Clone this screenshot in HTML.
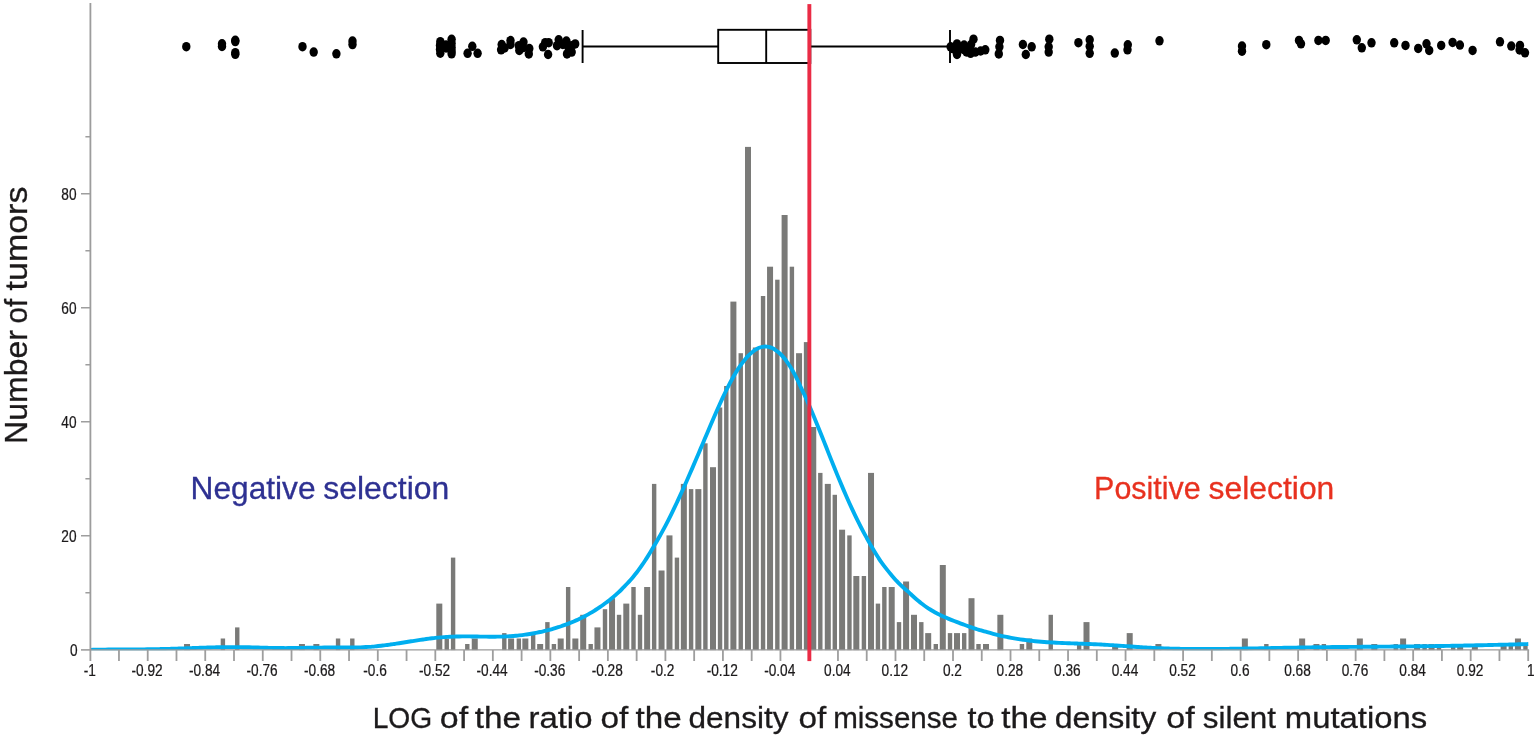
<!DOCTYPE html>
<html lang="en"><head><meta charset="utf-8"><title>Distribution of missense to silent mutation density ratio</title>
<style>html,body{margin:0;padding:0;background:#fff;overflow:hidden}svg{display:block}text{font-family:"Liberation Sans",sans-serif}</style></head><body>
<svg width="1534" height="740" viewBox="0 0 1534 740">
<rect width="1534" height="740" fill="#fff"/>
<g fill="#7a7a78" shape-rendering="auto">
<rect x="184.03" y="644.0" width="6.00" height="6.1"/>
<rect x="220.70" y="638.5" width="4.40" height="11.6"/>
<rect x="235.05" y="627.4" width="4.40" height="22.7"/>
<rect x="298.95" y="644.0" width="6.00" height="6.1"/>
<rect x="313.35" y="644.0" width="6.00" height="6.1"/>
<rect x="335.85" y="638.5" width="4.40" height="11.6"/>
<rect x="350.10" y="638.5" width="4.40" height="11.6"/>
<rect x="436.30" y="603.6" width="6.00" height="46.5"/>
<rect x="444.55" y="638.5" width="4.40" height="11.6"/>
<rect x="450.90" y="557.6" width="4.40" height="92.5"/>
<rect x="465.10" y="644.0" width="4.40" height="6.1"/>
<rect x="471.75" y="638.5" width="6.00" height="11.6"/>
<rect x="502.10" y="633.1" width="4.40" height="17.0"/>
<rect x="508.10" y="638.5" width="6.00" height="11.6"/>
<rect x="516.65" y="638.5" width="4.40" height="11.6"/>
<rect x="522.35" y="638.5" width="6.00" height="11.6"/>
<rect x="530.95" y="633.1" width="4.40" height="17.0"/>
<rect x="537.15" y="644.0" width="6.00" height="6.1"/>
<rect x="545.20" y="622.1" width="4.40" height="28.0"/>
<rect x="551.70" y="644.0" width="4.40" height="6.1"/>
<rect x="557.70" y="638.5" width="6.00" height="11.6"/>
<rect x="565.95" y="587.0" width="4.40" height="63.1"/>
<rect x="572.35" y="638.5" width="6.00" height="11.6"/>
<rect x="580.20" y="614.8" width="6.00" height="35.3"/>
<rect x="588.50" y="644.0" width="4.40" height="6.1"/>
<rect x="594.45" y="627.4" width="6.00" height="22.7"/>
<rect x="602.80" y="609.2" width="4.40" height="40.9"/>
<rect x="609.05" y="598.2" width="6.00" height="51.9"/>
<rect x="616.85" y="614.8" width="4.40" height="35.3"/>
<rect x="623.30" y="603.6" width="6.00" height="46.5"/>
<rect x="631.30" y="587.0" width="4.40" height="63.1"/>
<rect x="637.80" y="614.8" width="4.40" height="35.3"/>
<rect x="644.15" y="587.0" width="6.00" height="63.1"/>
<rect x="651.95" y="483.9" width="4.40" height="166.2"/>
<rect x="658.55" y="570.5" width="6.00" height="79.6"/>
<rect x="666.47" y="535.4" width="6.00" height="114.7"/>
<rect x="674.75" y="557.6" width="4.40" height="92.5"/>
<rect x="680.85" y="483.9" width="6.00" height="166.2"/>
<rect x="688.90" y="489.1" width="4.40" height="161.0"/>
<rect x="695.35" y="489.1" width="6.00" height="161.0"/>
<rect x="703.20" y="443.3" width="4.40" height="206.8"/>
<rect x="710.00" y="467.2" width="6.00" height="182.9"/>
<rect x="717.85" y="407.5" width="4.40" height="242.6"/>
<rect x="724.10" y="386.0" width="4.40" height="264.1"/>
<rect x="730.40" y="301.6" width="6.00" height="348.5"/>
<rect x="738.55" y="353.2" width="4.40" height="296.9"/>
<rect x="745.00" y="146.9" width="6.00" height="503.2"/>
<rect x="752.80" y="347.5" width="6.00" height="302.6"/>
<rect x="760.85" y="296.0" width="4.40" height="354.1"/>
<rect x="767.05" y="266.7" width="6.00" height="383.4"/>
<rect x="775.15" y="279.7" width="4.40" height="370.4"/>
<rect x="781.60" y="215.0" width="6.00" height="435.1"/>
<rect x="789.70" y="266.7" width="4.40" height="383.4"/>
<rect x="796.05" y="353.2" width="6.00" height="296.9"/>
<rect x="803.85" y="342.1" width="4.40" height="308.0"/>
<rect x="810.25" y="427.0" width="6.00" height="223.1"/>
<rect x="818.10" y="472.9" width="4.40" height="177.2"/>
<rect x="824.80" y="483.9" width="6.00" height="166.2"/>
<rect x="832.60" y="494.8" width="4.40" height="155.3"/>
<rect x="839.10" y="529.7" width="6.00" height="120.4"/>
<rect x="847.25" y="535.4" width="4.40" height="114.7"/>
<rect x="853.33" y="576.0" width="6.00" height="74.1"/>
<rect x="861.70" y="576.0" width="4.40" height="74.1"/>
<rect x="868.02" y="472.9" width="6.00" height="177.2"/>
<rect x="875.75" y="603.6" width="4.40" height="46.5"/>
<rect x="882.15" y="587.0" width="4.40" height="63.1"/>
<rect x="888.70" y="587.0" width="6.00" height="63.1"/>
<rect x="896.80" y="622.1" width="4.40" height="28.0"/>
<rect x="903.08" y="581.5" width="6.00" height="68.6"/>
<rect x="911.00" y="614.8" width="6.00" height="35.3"/>
<rect x="919.10" y="622.1" width="4.40" height="28.0"/>
<rect x="925.20" y="633.1" width="6.00" height="17.0"/>
<rect x="933.60" y="644.0" width="4.40" height="6.1"/>
<rect x="939.80" y="565.0" width="6.00" height="85.1"/>
<rect x="947.80" y="633.1" width="4.40" height="17.0"/>
<rect x="954.00" y="633.1" width="6.00" height="17.0"/>
<rect x="962.00" y="633.1" width="4.40" height="17.0"/>
<rect x="968.50" y="598.2" width="6.00" height="51.9"/>
<rect x="976.30" y="644.0" width="4.40" height="6.1"/>
<rect x="983.00" y="644.0" width="6.00" height="6.1"/>
<rect x="997.35" y="614.8" width="6.00" height="35.3"/>
<rect x="1019.75" y="644.0" width="4.40" height="6.1"/>
<rect x="1026.30" y="638.5" width="6.00" height="11.6"/>
<rect x="1048.55" y="614.8" width="4.40" height="35.3"/>
<rect x="1076.95" y="644.0" width="4.40" height="6.1"/>
<rect x="1083.50" y="622.1" width="6.00" height="28.0"/>
<rect x="1112.15" y="644.0" width="6.00" height="6.1"/>
<rect x="1126.70" y="633.1" width="6.00" height="17.0"/>
<rect x="1155.40" y="644.0" width="6.00" height="6.1"/>
<rect x="1241.85" y="638.5" width="6.00" height="11.6"/>
<rect x="1264.15" y="644.0" width="4.40" height="6.1"/>
<rect x="1299.15" y="638.5" width="6.00" height="11.6"/>
<rect x="1313.45" y="644.0" width="6.00" height="6.1"/>
<rect x="1321.65" y="644.0" width="4.40" height="6.1"/>
<rect x="1356.85" y="638.5" width="6.00" height="11.6"/>
<rect x="1371.30" y="644.0" width="6.00" height="6.1"/>
<rect x="1393.55" y="644.0" width="4.40" height="6.1"/>
<rect x="1400.10" y="638.5" width="6.00" height="11.6"/>
<rect x="1414.08" y="644.0" width="6.00" height="6.1"/>
<rect x="1422.40" y="644.0" width="4.40" height="6.1"/>
<rect x="1428.55" y="644.0" width="6.00" height="6.1"/>
<rect x="1436.80" y="644.0" width="4.40" height="6.1"/>
<rect x="1450.97" y="644.0" width="4.40" height="6.1"/>
<rect x="1457.15" y="644.0" width="6.00" height="6.1"/>
<rect x="1471.85" y="644.0" width="6.00" height="6.1"/>
<rect x="1500.62" y="644.0" width="6.00" height="6.1"/>
<rect x="1508.60" y="644.0" width="4.40" height="6.1"/>
<rect x="1514.95" y="638.5" width="6.00" height="11.6"/>
<rect x="1523.25" y="644.0" width="4.40" height="6.1"/>
</g>
<clipPath id="pc"><rect x="89.7" y="0" width="1439.5" height="650.3"/></clipPath>
<path d="M90.20 649.90C91.20 649.87 92.20 649.84 93.20 649.82C94.20 649.79 95.20 649.77 96.20 649.74C97.20 649.72 98.20 649.70 99.20 649.69C100.20 649.67 101.20 649.65 102.20 649.64C103.20 649.62 104.20 649.61 105.20 649.60C106.20 649.59 107.20 649.58 108.20 649.57C109.20 649.56 110.20 649.55 111.20 649.55C112.20 649.54 113.20 649.53 114.20 649.53C115.20 649.52 116.20 649.52 117.20 649.51C118.20 649.51 119.20 649.50 120.20 649.50C121.20 649.49 122.20 649.49 123.20 649.48C124.20 649.48 125.20 649.47 126.20 649.47C127.20 649.47 128.20 649.46 129.20 649.46C130.20 649.45 131.20 649.44 132.20 649.44C133.20 649.43 134.20 649.43 135.20 649.42C136.20 649.41 137.20 649.40 138.20 649.40C139.20 649.39 140.20 649.38 141.20 649.37C142.20 649.36 143.20 649.35 144.20 649.34C145.20 649.32 146.20 649.31 147.20 649.30C148.20 649.28 149.20 649.27 150.20 649.25C151.20 649.24 152.20 649.22 153.20 649.20C154.20 649.19 155.20 649.17 156.20 649.15C157.20 649.13 158.20 649.11 159.20 649.09C160.20 649.07 161.20 649.04 162.20 649.02C163.20 649.00 164.20 648.97 165.20 648.95C166.20 648.92 167.20 648.89 168.20 648.87C169.20 648.84 170.20 648.81 171.20 648.78C172.20 648.75 173.20 648.72 174.20 648.69C175.20 648.66 176.20 648.63 177.20 648.60C178.20 648.57 179.20 648.53 180.20 648.50C181.20 648.46 182.20 648.43 183.20 648.40C184.20 648.36 185.20 648.33 186.20 648.29C187.20 648.26 188.20 648.22 189.20 648.18C190.20 648.15 191.20 648.11 192.20 648.07C193.20 648.04 194.20 648.00 195.20 647.97C196.20 647.93 197.20 647.89 198.20 647.86C199.20 647.82 200.20 647.79 201.20 647.75C202.20 647.72 203.20 647.69 204.20 647.65C205.20 647.62 206.20 647.59 207.20 647.56C208.20 647.53 209.20 647.50 210.20 647.47C211.20 647.44 212.20 647.41 213.20 647.39C214.20 647.36 215.20 647.34 216.20 647.31C217.20 647.29 218.20 647.27 219.20 647.25C220.20 647.23 221.20 647.22 222.20 647.20C223.20 647.19 224.20 647.18 225.20 647.17C226.20 647.15 227.20 647.15 228.20 647.14C229.20 647.13 230.20 647.13 231.20 647.13C232.20 647.13 233.20 647.13 234.20 647.13C235.20 647.13 236.20 647.14 237.20 647.15C238.20 647.15 239.20 647.16 240.20 647.17C241.20 647.19 242.20 647.20 243.20 647.21C244.20 647.23 245.20 647.25 246.20 647.26C247.20 647.28 248.20 647.30 249.20 647.32C250.20 647.35 251.20 647.37 252.20 647.39C253.20 647.42 254.20 647.44 255.20 647.47C256.20 647.49 257.20 647.52 258.20 647.55C259.20 647.57 260.20 647.60 261.20 647.63C262.20 647.66 263.20 647.69 264.20 647.71C265.20 647.74 266.20 647.77 267.20 647.79C268.20 647.82 269.20 647.84 270.20 647.87C271.20 647.89 272.20 647.91 273.20 647.93C274.20 647.95 275.20 647.97 276.20 647.99C277.20 648.01 278.20 648.02 279.20 648.03C280.20 648.05 281.20 648.05 282.20 648.06C283.20 648.07 284.20 648.07 285.20 648.08C286.20 648.08 287.20 648.08 288.20 648.07C289.20 648.07 290.20 648.07 291.20 648.06C292.20 648.05 293.20 648.04 294.20 648.03C295.20 648.02 296.20 648.00 297.20 647.99C298.20 647.97 299.20 647.95 300.20 647.93C301.20 647.92 302.20 647.90 303.20 647.88C304.20 647.86 305.20 647.84 306.20 647.82C307.20 647.80 308.20 647.78 309.20 647.76C310.20 647.74 311.20 647.72 312.20 647.70C313.20 647.68 314.20 647.67 315.20 647.65C316.20 647.64 317.20 647.62 318.20 647.61C319.20 647.60 320.20 647.59 321.20 647.58C322.20 647.57 323.20 647.56 324.20 647.56C325.20 647.55 326.20 647.55 327.20 647.54C328.20 647.54 329.20 647.54 330.20 647.54C331.20 647.54 332.20 647.54 333.20 647.54C334.20 647.54 335.20 647.55 336.20 647.55C337.20 647.55 338.20 647.56 339.20 647.56C340.20 647.56 341.20 647.57 342.20 647.57C343.20 647.57 344.20 647.57 345.20 647.57C346.20 647.57 347.20 647.57 348.20 647.57C349.20 647.57 350.20 647.56 351.20 647.55C352.20 647.54 353.20 647.53 354.20 647.51C355.20 647.49 356.20 647.47 357.20 647.45C358.20 647.42 359.20 647.39 360.20 647.35C361.20 647.31 362.20 647.27 363.20 647.22C364.20 647.17 365.20 647.11 366.20 647.05C367.20 646.99 368.20 646.92 369.20 646.85C370.20 646.78 371.20 646.70 372.20 646.61C373.20 646.53 374.20 646.44 375.20 646.34C376.20 646.25 377.20 646.15 378.20 646.04C379.20 645.93 380.20 645.82 381.20 645.71C382.20 645.59 383.20 645.47 384.20 645.35C385.20 645.22 386.20 645.09 387.20 644.96C388.20 644.83 389.20 644.69 390.20 644.55C391.20 644.41 392.20 644.27 393.20 644.12C394.20 643.97 395.20 643.83 396.20 643.67C397.20 643.52 398.20 643.37 399.20 643.21C400.20 643.06 401.20 642.90 402.20 642.74C403.20 642.58 404.20 642.42 405.20 642.26C406.20 642.10 407.20 641.94 408.20 641.78C409.20 641.62 410.20 641.46 411.20 641.30C412.20 641.14 413.20 640.98 414.20 640.82C415.20 640.66 416.20 640.50 417.20 640.35C418.20 640.19 419.20 640.04 420.20 639.89C421.20 639.74 422.20 639.59 423.20 639.45C424.20 639.31 425.20 639.16 426.20 639.03C427.20 638.89 428.20 638.76 429.20 638.63C430.20 638.51 431.20 638.38 432.20 638.27C433.20 638.15 434.20 638.03 435.20 637.93C436.20 637.82 437.20 637.72 438.20 637.62C439.20 637.53 440.20 637.44 441.20 637.35C442.20 637.27 443.20 637.19 444.20 637.12C445.20 637.04 446.20 636.98 447.20 636.91C448.20 636.85 449.20 636.80 450.20 636.75C451.20 636.70 452.20 636.65 453.20 636.62C454.20 636.58 455.20 636.55 456.20 636.52C457.20 636.49 458.20 636.47 459.20 636.45C460.20 636.43 461.20 636.42 462.20 636.41C463.20 636.40 464.20 636.40 465.20 636.40C466.20 636.40 467.20 636.40 468.20 636.41C469.20 636.41 470.20 636.42 471.20 636.43C472.20 636.44 473.20 636.46 474.20 636.47C475.20 636.49 476.20 636.51 477.20 636.52C478.20 636.54 479.20 636.56 480.20 636.58C481.20 636.59 482.20 636.61 483.20 636.63C484.20 636.64 485.20 636.65 486.20 636.67C487.20 636.68 488.20 636.69 489.20 636.69C490.20 636.70 491.20 636.71 492.20 636.71C493.20 636.71 494.20 636.70 495.20 636.69C496.20 636.69 497.20 636.67 498.20 636.66C499.20 636.64 500.20 636.62 501.20 636.59C502.20 636.56 503.20 636.53 504.20 636.49C505.20 636.45 506.20 636.41 507.20 636.35C508.20 636.30 509.20 636.25 510.20 636.18C511.20 636.12 512.20 636.05 513.20 635.97C514.20 635.89 515.20 635.80 516.20 635.71C517.20 635.62 518.20 635.52 519.20 635.41C520.20 635.30 521.20 635.19 522.20 635.07C523.20 634.94 524.20 634.81 525.20 634.67C526.20 634.54 527.20 634.39 528.20 634.24C529.20 634.08 530.20 633.92 531.20 633.75C532.20 633.59 533.20 633.41 534.20 633.22C535.20 633.04 536.20 632.85 537.20 632.65C538.20 632.45 539.20 632.24 540.20 632.02C541.20 631.81 542.20 631.58 543.20 631.35C544.20 631.12 545.20 630.88 546.20 630.63C547.20 630.38 548.20 630.13 549.20 629.86C550.20 629.60 551.20 629.32 552.20 629.04C553.20 628.76 554.20 628.46 555.20 628.16C556.20 627.86 557.20 627.55 558.20 627.23C559.20 626.91 560.20 626.58 561.20 626.24C562.20 625.91 563.20 625.56 564.20 625.20C565.20 624.84 566.20 624.47 567.20 624.09C568.20 623.71 569.20 623.32 570.20 622.92C571.20 622.51 572.20 622.10 573.20 621.68C574.20 621.25 575.20 620.81 576.20 620.37C577.20 619.92 578.20 619.46 579.20 618.98C580.20 618.51 581.20 618.02 582.20 617.52C583.20 617.02 584.20 616.51 585.20 615.98C586.20 615.45 587.20 614.91 588.20 614.35C589.20 613.79 590.20 613.22 591.20 612.63C592.20 612.05 593.20 611.44 594.20 610.82C595.20 610.20 596.20 609.57 597.20 608.91C598.20 608.26 599.20 607.59 600.20 606.90C601.22 606.21 602.24 605.51 603.25 604.78C604.27 604.06 605.29 603.32 606.30 602.55C607.32 601.79 608.34 601.01 609.35 600.20C610.37 599.40 611.39 598.57 612.40 597.73C613.42 596.88 614.44 596.01 615.45 595.12C616.47 594.23 617.48 593.33 618.50 592.38C619.50 591.45 620.50 590.49 621.50 589.50C622.50 588.52 623.50 587.51 624.50 586.48C625.50 585.44 626.50 584.38 627.50 583.30C628.50 582.21 629.50 581.10 630.50 579.96C631.50 578.82 632.50 577.66 633.50 576.46C634.50 575.27 635.50 574.08 636.50 572.80C637.45 571.57 638.41 570.28 639.36 568.96C640.30 567.66 641.24 566.31 642.18 564.94C643.12 563.57 644.06 562.17 644.99 560.74C645.93 559.31 646.87 557.84 647.81 556.35C648.75 554.85 649.68 553.32 650.62 551.76C651.56 550.20 652.51 548.56 653.45 546.98C654.44 545.31 655.44 543.69 656.43 542.00C657.43 540.30 658.42 538.57 659.41 536.81C660.41 535.05 661.40 533.25 662.40 531.42C663.39 529.59 664.39 527.73 665.38 525.84C666.37 523.94 667.37 522.01 668.36 520.05C669.36 518.09 670.35 516.10 671.35 514.08C672.34 512.06 673.33 510.01 674.33 507.93C675.32 505.85 676.32 503.73 677.31 501.61C678.31 499.47 679.31 497.30 680.31 495.12C681.32 492.92 682.33 490.72 683.34 488.49C684.36 486.25 685.37 483.99 686.38 481.72C687.39 479.44 688.40 477.14 689.41 474.83C690.42 472.52 691.43 470.19 692.44 467.85C693.45 465.50 694.46 463.14 695.47 460.78C696.48 458.41 697.49 456.03 698.50 453.65C699.51 451.27 700.53 448.88 701.54 446.49C702.55 444.10 703.56 441.71 704.57 439.32C705.58 436.93 706.59 434.54 707.60 432.16C708.61 429.78 709.62 427.41 710.63 425.05C711.64 422.69 712.65 420.34 713.66 418.01C714.67 415.68 715.69 413.36 716.70 411.07C717.71 408.79 718.72 406.52 719.73 404.28C720.74 402.05 721.75 399.83 722.76 397.66C723.77 395.49 724.78 393.33 725.79 391.26C726.82 389.14 727.86 387.10 728.89 385.11C729.93 383.10 730.97 381.14 732.01 379.25C733.05 377.35 734.09 375.48 735.13 373.72C736.19 371.92 737.25 370.20 738.31 368.58C739.40 366.91 740.50 365.36 741.59 363.87C742.68 362.38 743.77 360.97 744.86 359.65C745.96 358.33 747.05 357.10 748.14 355.96C749.23 354.83 750.32 353.81 751.41 352.86C752.43 351.95 753.46 351.09 754.49 350.36C755.51 349.63 756.54 349.00 757.57 348.48C758.59 347.97 759.62 347.55 760.65 347.25C761.67 346.94 762.70 346.74 763.73 346.63C764.75 346.53 765.77 346.53 766.79 346.63C767.76 346.73 768.73 346.93 769.70 347.22C770.67 347.51 771.64 347.89 772.61 348.36C773.58 348.83 774.55 349.39 775.52 350.03C776.49 350.67 777.46 351.39 778.42 352.22C779.38 353.02 780.33 353.92 781.28 354.91C782.23 355.88 783.18 356.95 784.12 358.09C785.07 359.24 786.02 360.47 786.96 361.78C787.91 363.10 788.86 364.50 789.80 365.98C790.75 367.46 791.70 369.02 792.64 370.68C793.57 372.32 794.50 374.06 795.44 375.87C796.36 377.67 797.29 379.58 798.21 381.53C799.14 383.49 800.07 385.61 801.00 387.61C802.02 389.79 803.04 391.85 804.06 394.05C805.08 396.26 806.10 398.52 807.12 400.82C808.14 403.11 809.16 405.46 810.18 407.84C811.20 410.21 812.22 412.63 813.24 415.06C814.26 417.49 815.28 419.96 816.30 422.44C817.32 424.91 818.34 427.40 819.36 429.92C820.37 432.42 821.38 434.93 822.39 437.48C823.38 439.98 824.38 442.53 825.37 445.05C826.36 447.57 827.36 450.10 828.35 452.61C829.34 455.13 830.34 457.64 831.33 460.13C832.32 462.62 833.32 465.10 834.31 467.56C835.30 470.02 836.30 472.47 837.29 474.89C838.28 477.31 839.27 479.71 840.27 482.09C841.26 484.46 842.25 486.81 843.25 489.13C844.24 491.44 845.23 493.74 846.23 495.99C847.22 498.25 848.21 500.47 849.21 502.67C850.19 504.85 851.17 507.01 852.16 509.14C853.14 511.26 854.12 513.35 855.10 515.40C856.08 517.45 857.07 519.46 858.05 521.43C859.03 523.41 860.01 525.34 860.99 527.24C861.97 529.14 862.95 530.99 863.93 532.83C864.90 534.64 865.87 536.42 866.84 538.19C867.79 539.92 868.74 541.65 869.69 543.33C870.64 545.01 871.59 546.65 872.54 548.26C873.49 549.87 874.44 551.45 875.39 552.99C876.34 554.54 877.29 556.05 878.24 557.53C879.20 559.02 880.15 560.53 881.11 561.89C882.16 563.39 883.20 564.71 884.25 566.08C885.30 567.45 886.34 568.79 887.39 570.11C888.44 571.42 889.49 572.71 890.53 573.96C891.58 575.22 892.63 576.45 893.67 577.66C894.72 578.86 895.77 580.06 896.82 581.19C897.86 582.32 898.91 583.41 899.96 584.44C901.01 585.46 902.06 586.39 903.11 587.34C904.14 588.27 905.17 589.18 906.20 590.07C907.20 590.94 908.20 591.73 909.20 592.64C910.20 593.54 911.20 594.57 912.20 595.50C913.20 596.44 914.20 597.37 915.20 598.26C916.20 599.15 917.20 600.01 918.20 600.85C919.20 601.69 920.20 602.52 921.20 603.30C922.20 604.07 923.20 604.80 924.20 605.51C925.20 606.22 926.20 606.89 927.20 607.55C928.20 608.21 929.20 608.85 930.20 609.47C931.20 610.09 932.20 610.70 933.20 611.28C934.20 611.87 935.20 612.44 936.20 612.98C937.20 613.51 938.20 614.01 939.20 614.50C940.20 615.00 941.20 615.48 942.20 615.95C943.20 616.41 944.20 616.87 945.20 617.31C946.20 617.76 947.20 618.19 948.20 618.62C949.20 619.04 950.20 619.45 951.20 619.86C952.20 620.26 953.20 620.66 954.20 621.05C955.20 621.44 956.20 621.82 957.20 622.19C958.20 622.57 959.20 622.93 960.20 623.30C961.20 623.67 962.20 624.04 963.20 624.40C964.20 624.77 965.20 625.15 966.20 625.51C967.20 625.88 968.20 626.24 969.20 626.60C970.20 626.96 971.20 627.31 972.20 627.66C973.20 628.01 974.20 628.37 975.20 628.69C976.20 629.01 977.20 629.28 978.20 629.58C979.20 629.87 980.20 630.17 981.20 630.46C982.20 630.75 983.20 631.03 984.20 631.32C985.20 631.60 986.20 631.88 987.20 632.16C988.20 632.44 989.20 632.72 990.20 632.99C991.20 633.26 992.20 633.53 993.20 633.80C994.20 634.06 995.20 634.32 996.20 634.58C997.20 634.83 998.20 635.09 999.20 635.33C1000.20 635.57 1001.20 635.80 1002.20 636.03C1003.20 636.25 1004.20 636.47 1005.20 636.68C1006.20 636.89 1007.20 637.09 1008.20 637.28C1009.20 637.47 1010.20 637.66 1011.20 637.84C1012.20 638.01 1013.20 638.18 1014.20 638.34C1015.20 638.50 1016.20 638.65 1017.20 638.81C1018.20 638.97 1019.20 639.15 1020.20 639.31C1021.20 639.47 1022.20 639.62 1023.20 639.77C1024.20 639.91 1025.20 640.05 1026.20 640.18C1027.20 640.32 1028.20 640.44 1029.20 640.56C1030.20 640.69 1031.20 640.80 1032.20 640.91C1033.20 641.02 1034.20 641.12 1035.20 641.22C1036.20 641.32 1037.20 641.41 1038.20 641.50C1039.20 641.59 1040.20 641.68 1041.20 641.76C1042.20 641.84 1043.20 641.92 1044.20 641.99C1045.20 642.06 1046.20 642.13 1047.20 642.20C1048.20 642.26 1049.20 642.33 1050.20 642.39C1051.20 642.45 1052.20 642.50 1053.20 642.56C1054.20 642.61 1055.20 642.66 1056.20 642.71C1057.20 642.76 1058.20 642.81 1059.20 642.85C1060.20 642.90 1061.20 642.94 1062.20 642.98C1063.20 643.02 1064.20 643.06 1065.20 643.10C1066.20 643.14 1067.20 643.18 1068.20 643.22C1069.20 643.26 1070.20 643.29 1071.20 643.33C1072.20 643.36 1073.20 643.40 1074.20 643.44C1075.20 643.47 1076.20 643.51 1077.20 643.54C1078.20 643.58 1079.20 643.61 1080.20 643.65C1081.20 643.68 1082.20 643.72 1083.20 643.76C1084.20 643.79 1085.20 643.83 1086.20 643.87C1087.20 643.91 1088.20 643.95 1089.20 643.99C1090.20 644.03 1091.20 644.07 1092.20 644.12C1093.20 644.16 1094.20 644.21 1095.20 644.25C1096.20 644.30 1097.20 644.35 1098.20 644.40C1099.20 644.45 1100.20 644.50 1101.20 644.55C1102.20 644.61 1103.20 644.66 1104.20 644.72C1105.20 644.77 1106.20 644.83 1107.20 644.89C1108.20 644.95 1109.20 645.01 1110.20 645.08C1111.20 645.14 1112.20 645.21 1113.20 645.27C1114.20 645.34 1115.20 645.40 1116.20 645.47C1117.20 645.54 1118.20 645.61 1119.20 645.68C1120.20 645.75 1121.20 645.82 1122.20 645.89C1123.20 645.96 1124.20 646.04 1125.20 646.11C1126.20 646.18 1127.20 646.25 1128.20 646.32C1129.20 646.40 1130.20 646.47 1131.20 646.54C1132.20 646.61 1133.20 646.68 1134.20 646.75C1135.20 646.82 1136.20 646.89 1137.20 646.96C1138.20 647.02 1139.20 647.09 1140.20 647.15C1141.20 647.22 1142.20 647.28 1143.20 647.35C1144.20 647.41 1145.20 647.47 1146.20 647.53C1147.20 647.59 1148.20 647.64 1149.20 647.70C1150.20 647.75 1151.20 647.81 1152.20 647.86C1153.20 647.91 1154.20 647.96 1155.20 648.01C1156.20 648.06 1157.20 648.10 1158.20 648.15C1159.20 648.19 1160.20 648.24 1161.20 648.28C1162.20 648.32 1163.20 648.36 1164.20 648.39C1165.20 648.43 1166.20 648.47 1167.20 648.50C1168.20 648.53 1169.20 648.57 1170.20 648.60C1171.20 648.63 1172.20 648.65 1173.20 648.68C1174.20 648.71 1175.20 648.73 1176.20 648.76C1177.20 648.78 1178.20 648.80 1179.20 648.82C1180.20 648.84 1181.20 648.86 1182.20 648.88C1183.20 648.90 1184.20 648.91 1185.20 648.93C1186.20 648.94 1187.20 648.96 1188.20 648.97C1189.20 648.98 1190.20 648.99 1191.20 649.00C1192.20 649.01 1193.20 649.02 1194.20 649.02C1195.20 649.03 1196.20 649.03 1197.20 649.04C1198.20 649.04 1199.20 649.04 1200.20 649.05C1201.20 649.05 1202.20 649.05 1203.20 649.05C1204.20 649.05 1205.20 649.05 1206.20 649.04C1207.20 649.04 1208.20 649.04 1209.20 649.03C1210.20 649.03 1211.20 649.02 1212.20 649.01C1213.20 649.01 1214.20 649.00 1215.20 648.99C1216.20 648.98 1217.20 648.98 1218.20 648.97C1219.20 648.96 1220.20 648.95 1221.20 648.93C1222.20 648.92 1223.20 648.91 1224.20 648.90C1225.20 648.89 1226.20 648.87 1227.20 648.86C1228.20 648.85 1229.20 648.83 1230.20 648.82C1231.20 648.80 1232.20 648.79 1233.20 648.77C1234.20 648.76 1235.20 648.74 1236.20 648.72C1237.20 648.71 1238.20 648.69 1239.20 648.67C1240.20 648.66 1241.20 648.64 1242.20 648.62C1243.20 648.60 1244.20 648.58 1245.20 648.57C1246.20 648.55 1247.20 648.53 1248.20 648.51C1249.20 648.49 1250.20 648.47 1251.20 648.45C1252.20 648.43 1253.20 648.41 1254.20 648.39C1255.20 648.37 1256.20 648.35 1257.20 648.33C1258.20 648.31 1259.20 648.29 1260.20 648.27C1261.20 648.25 1262.20 648.23 1263.20 648.21C1264.20 648.19 1265.20 648.17 1266.20 648.15C1267.20 648.13 1268.20 648.11 1269.20 648.09C1270.20 648.07 1271.20 648.05 1272.20 648.03C1273.20 648.01 1274.20 647.99 1275.20 647.97C1276.20 647.95 1277.20 647.93 1278.20 647.92C1279.20 647.90 1280.20 647.88 1281.20 647.86C1282.20 647.84 1283.20 647.82 1284.20 647.80C1285.20 647.78 1286.20 647.76 1287.20 647.74C1288.20 647.73 1289.20 647.71 1290.20 647.69C1291.20 647.67 1292.20 647.65 1293.20 647.64C1294.20 647.62 1295.20 647.60 1296.20 647.58C1297.20 647.57 1298.20 647.55 1299.20 647.53C1300.20 647.51 1301.20 647.50 1302.20 647.48C1303.20 647.47 1304.20 647.45 1305.20 647.43C1306.20 647.42 1307.20 647.40 1308.20 647.39C1309.20 647.37 1310.20 647.36 1311.20 647.34C1312.20 647.33 1313.20 647.31 1314.20 647.30C1315.20 647.29 1316.20 647.27 1317.20 647.26C1318.20 647.24 1319.20 647.23 1320.20 647.22C1321.20 647.20 1322.20 647.19 1323.20 647.18C1324.20 647.17 1325.20 647.15 1326.20 647.14C1327.20 647.13 1328.20 647.12 1329.20 647.11C1330.20 647.10 1331.20 647.09 1332.20 647.07C1333.20 647.06 1334.20 647.05 1335.20 647.04C1336.20 647.03 1337.20 647.02 1338.20 647.01C1339.20 647.00 1340.20 646.99 1341.20 646.98C1342.20 646.97 1343.20 646.96 1344.20 646.95C1345.20 646.94 1346.20 646.93 1347.20 646.93C1348.20 646.92 1349.20 646.91 1350.20 646.90C1351.20 646.89 1352.20 646.88 1353.20 646.87C1354.20 646.87 1355.20 646.86 1356.20 646.85C1357.20 646.84 1358.20 646.83 1359.20 646.83C1360.20 646.82 1361.20 646.81 1362.20 646.80C1363.20 646.79 1364.20 646.79 1365.20 646.78C1366.20 646.77 1367.20 646.76 1368.20 646.75C1369.20 646.75 1370.20 646.74 1371.20 646.73C1372.20 646.72 1373.20 646.72 1374.20 646.71C1375.20 646.70 1376.20 646.69 1377.20 646.68C1378.20 646.68 1379.20 646.67 1380.20 646.66C1381.20 646.65 1382.20 646.64 1383.20 646.64C1384.20 646.63 1385.20 646.62 1386.20 646.61C1387.20 646.60 1388.20 646.59 1389.20 646.59C1390.20 646.58 1391.20 646.57 1392.20 646.56C1393.20 646.55 1394.20 646.54 1395.20 646.53C1396.20 646.52 1397.20 646.51 1398.20 646.51C1399.20 646.50 1400.20 646.49 1401.20 646.48C1402.20 646.47 1403.20 646.46 1404.20 646.45C1405.20 646.44 1406.20 646.43 1407.20 646.42C1408.20 646.41 1409.20 646.40 1410.20 646.38C1411.20 646.37 1412.20 646.36 1413.20 646.35C1414.20 646.34 1415.20 646.33 1416.20 646.32C1417.20 646.31 1418.20 646.29 1419.20 646.28C1420.20 646.27 1421.20 646.26 1422.20 646.24C1423.20 646.23 1424.20 646.22 1425.20 646.21C1426.20 646.19 1427.20 646.18 1428.20 646.17C1429.20 646.15 1430.20 646.14 1431.20 646.13C1432.20 646.11 1433.20 646.10 1434.20 646.08C1435.20 646.07 1436.20 646.05 1437.20 646.04C1438.20 646.02 1439.20 646.01 1440.20 645.99C1441.20 645.98 1442.20 645.96 1443.20 645.95C1444.20 645.93 1445.20 645.91 1446.20 645.90C1447.20 645.88 1448.20 645.86 1449.20 645.85C1450.20 645.83 1451.20 645.81 1452.20 645.79C1453.20 645.78 1454.20 645.76 1455.20 645.74C1456.20 645.72 1457.20 645.70 1458.20 645.69C1459.20 645.67 1460.20 645.65 1461.20 645.63C1462.20 645.61 1463.20 645.59 1464.20 645.57C1465.20 645.55 1466.20 645.53 1467.20 645.51C1468.20 645.49 1469.20 645.47 1470.20 645.45C1471.20 645.43 1472.20 645.41 1473.20 645.39C1474.20 645.37 1475.20 645.35 1476.20 645.32C1477.20 645.30 1478.20 645.28 1479.20 645.26C1480.20 645.24 1481.20 645.21 1482.20 645.19C1483.20 645.17 1484.20 645.15 1485.20 645.12C1486.20 645.10 1487.20 645.08 1488.20 645.06C1489.20 645.03 1490.20 645.01 1491.20 644.99C1492.20 644.96 1493.20 644.94 1494.20 644.91C1495.20 644.89 1496.20 644.87 1497.20 644.84C1498.20 644.82 1499.20 644.79 1500.20 644.77C1501.20 644.74 1502.20 644.72 1503.20 644.69C1504.20 644.67 1505.20 644.64 1506.20 644.62C1507.20 644.59 1508.20 644.57 1509.20 644.54C1510.20 644.52 1511.20 644.49 1512.20 644.47C1513.20 644.44 1514.20 644.42 1515.20 644.39C1516.20 644.36 1517.20 644.34 1518.20 644.31C1519.20 644.29 1520.20 644.26 1521.20 644.23C1522.20 644.21 1523.20 644.18 1524.20 644.16C1525.20 644.13 1526.20 644.10 1527.20 644.08C1527.57 644.07 1527.93 644.06 1528.30 644.05" fill="none" stroke="#00aeef" stroke-width="3.9" stroke-linejoin="round" clip-path="url(#pc)"/>
<g stroke="#9a9a9a" fill="none">
<path d="M90.4 3V660.9" stroke-width="1.8" stroke="#9c9c9c"/>
<path d="M81.0 649.9H90.4" stroke-width="1.6" stroke="#9e9e9e"/><path d="M90.4 649.9H1529.1" stroke-width="1.4"/>
<path d="M85.4 592.8H90.4M81.0 535.8H90.4M85.4 478.8H90.4M81.0 421.8H90.4M85.4 364.8H90.4M81.0 307.7H90.4M85.4 250.7H90.4M81.0 193.7H90.4M85.4 136.7H90.4" stroke-width="1.6" stroke="#9e9e9e"/>
<path d="M118.96 649.9V660.9M147.72 649.9V660.9M176.48 649.9V660.9M205.24 649.9V660.9M234.00 649.9V660.9M262.76 649.9V660.9M291.52 649.9V660.9M320.28 649.9V660.9M349.04 649.9V660.9M377.80 649.9V660.9M406.56 649.9V660.9M435.32 649.9V660.9M464.08 649.9V660.9M492.84 649.9V660.9M521.60 649.9V660.9M550.36 649.9V660.9M579.12 649.9V660.9M607.88 649.9V660.9M636.64 649.9V660.9M665.40 649.9V660.9M694.16 649.9V660.9M722.92 649.9V660.9M751.68 649.9V660.9M780.44 649.9V660.9M809.20 649.9V660.9M837.96 649.9V660.9M866.72 649.9V660.9M895.48 649.9V660.9M924.24 649.9V660.9M953.00 649.9V660.9M981.76 649.9V660.9M1010.52 649.9V660.9M1039.28 649.9V660.9M1068.04 649.9V660.9M1096.80 649.9V660.9M1125.56 649.9V660.9M1154.32 649.9V660.9M1183.08 649.9V660.9M1211.84 649.9V660.9M1240.60 649.9V660.9M1269.36 649.9V660.9M1298.12 649.9V660.9M1326.88 649.9V660.9M1355.64 649.9V660.9M1384.40 649.9V660.9M1413.16 649.9V660.9M1441.92 649.9V660.9M1470.68 649.9V660.9M1499.44 649.9V660.9M1528.20 649.9V660.9" stroke-width="1.8" stroke="#9e9e9e"/>
</g>
<g stroke="#000" stroke-width="1.9" fill="none">
<path d="M582.6 30V62.9M582.6 46.5H718.2M810.3 46.5H950M950 30V62.9"/>
<rect x="718.2" y="29.8" width="92.1" height="33.2"/>
<path d="M766.2 29.8V63"/>
</g>
<g fill="#000">
<ellipse cx="186.3" cy="46.7" rx="4.2" ry="4.75"/>
<ellipse cx="222.0" cy="43.8" rx="4.2" ry="4.75"/>
<ellipse cx="222.0" cy="46.4" rx="4.2" ry="4.75"/>
<ellipse cx="235.3" cy="40.3" rx="4.2" ry="4.75"/>
<ellipse cx="235.3" cy="41.6" rx="4.2" ry="4.75"/>
<ellipse cx="235.3" cy="52.7" rx="4.2" ry="4.75"/>
<ellipse cx="235.3" cy="54.3" rx="4.2" ry="4.75"/>
<ellipse cx="302.5" cy="46.7" rx="4.2" ry="4.75"/>
<ellipse cx="313.7" cy="52.1" rx="4.2" ry="4.75"/>
<ellipse cx="336.4" cy="53.8" rx="4.2" ry="4.75"/>
<ellipse cx="352.5" cy="41.0" rx="4.2" ry="4.75"/>
<ellipse cx="352.5" cy="44.6" rx="4.2" ry="4.75"/>
<ellipse cx="440.3" cy="41.7" rx="4.2" ry="4.75"/>
<ellipse cx="440.0" cy="45.4" rx="4.2" ry="4.75"/>
<ellipse cx="440.0" cy="49.4" rx="4.2" ry="4.75"/>
<ellipse cx="440.3" cy="53.2" rx="4.2" ry="4.75"/>
<ellipse cx="451.6" cy="39.3" rx="4.2" ry="4.75"/>
<ellipse cx="451.6" cy="43.4" rx="4.2" ry="4.75"/>
<ellipse cx="451.6" cy="47.4" rx="4.2" ry="4.75"/>
<ellipse cx="451.6" cy="50.9" rx="4.2" ry="4.75"/>
<ellipse cx="451.6" cy="53.8" rx="4.2" ry="4.75"/>
<ellipse cx="446.0" cy="44.9" rx="4.2" ry="4.75"/>
<ellipse cx="446.0" cy="47.9" rx="4.2" ry="4.75"/>
<ellipse cx="472.3" cy="46.3" rx="4.2" ry="4.75"/>
<ellipse cx="467.6" cy="53.3" rx="4.2" ry="4.75"/>
<ellipse cx="477.6" cy="53.3" rx="4.2" ry="4.75"/>
<ellipse cx="501.7" cy="44.5" rx="4.2" ry="4.75"/>
<ellipse cx="501.1" cy="49.8" rx="4.2" ry="4.75"/>
<ellipse cx="510.5" cy="40.6" rx="4.2" ry="4.75"/>
<ellipse cx="510.5" cy="44.4" rx="4.2" ry="4.75"/>
<ellipse cx="523.0" cy="47.6" rx="4.2" ry="4.75"/>
<ellipse cx="504.6" cy="48.0" rx="4.2" ry="4.75"/>
<ellipse cx="523.5" cy="42.1" rx="4.2" ry="4.75"/>
<ellipse cx="518.8" cy="45.7" rx="4.2" ry="4.75"/>
<ellipse cx="519.3" cy="50.4" rx="4.2" ry="4.75"/>
<ellipse cx="529.3" cy="48.6" rx="4.2" ry="4.75"/>
<ellipse cx="528.8" cy="53.9" rx="4.2" ry="4.75"/>
<ellipse cx="542.9" cy="46.8" rx="4.2" ry="4.75"/>
<ellipse cx="545.2" cy="42.7" rx="4.2" ry="4.75"/>
<ellipse cx="548.7" cy="42.7" rx="4.2" ry="4.75"/>
<ellipse cx="548.1" cy="54.5" rx="4.2" ry="4.75"/>
<ellipse cx="557.0" cy="45.7" rx="4.2" ry="4.75"/>
<ellipse cx="558.7" cy="39.8" rx="4.2" ry="4.75"/>
<ellipse cx="566.4" cy="41.0" rx="4.2" ry="4.75"/>
<ellipse cx="562.8" cy="44.5" rx="4.2" ry="4.75"/>
<ellipse cx="568.1" cy="46.8" rx="4.2" ry="4.75"/>
<ellipse cx="567.0" cy="53.9" rx="4.2" ry="4.75"/>
<ellipse cx="571.7" cy="52.1" rx="4.2" ry="4.75"/>
<ellipse cx="575.2" cy="43.9" rx="4.2" ry="4.75"/>
<ellipse cx="571.7" cy="45.7" rx="4.2" ry="4.75"/>
<ellipse cx="950.6" cy="46.8" rx="4.2" ry="4.75"/>
<ellipse cx="957.0" cy="43.9" rx="4.2" ry="4.75"/>
<ellipse cx="957.0" cy="54.5" rx="4.2" ry="4.75"/>
<ellipse cx="957.5" cy="49.4" rx="4.2" ry="4.75"/>
<ellipse cx="953.5" cy="48.9" rx="4.2" ry="4.75"/>
<ellipse cx="966.5" cy="51.9" rx="4.2" ry="4.75"/>
<ellipse cx="969.0" cy="47.9" rx="4.2" ry="4.75"/>
<ellipse cx="964.1" cy="45.1" rx="4.2" ry="4.75"/>
<ellipse cx="962.9" cy="49.2" rx="4.2" ry="4.75"/>
<ellipse cx="973.5" cy="39.2" rx="4.2" ry="4.75"/>
<ellipse cx="971.1" cy="44.5" rx="4.2" ry="4.75"/>
<ellipse cx="970.6" cy="53.3" rx="4.2" ry="4.75"/>
<ellipse cx="975.3" cy="52.1" rx="4.2" ry="4.75"/>
<ellipse cx="980.6" cy="51.0" rx="4.2" ry="4.75"/>
<ellipse cx="985.3" cy="49.8" rx="4.2" ry="4.75"/>
<ellipse cx="1000.0" cy="40.4" rx="4.2" ry="4.75"/>
<ellipse cx="999.4" cy="46.8" rx="4.2" ry="4.75"/>
<ellipse cx="998.8" cy="53.9" rx="4.2" ry="4.75"/>
<ellipse cx="1022.9" cy="44.5" rx="4.2" ry="4.75"/>
<ellipse cx="1031.7" cy="46.8" rx="4.2" ry="4.75"/>
<ellipse cx="1025.8" cy="54.5" rx="4.2" ry="4.75"/>
<ellipse cx="1049.3" cy="39.2" rx="4.2" ry="4.75"/>
<ellipse cx="1048.7" cy="46.8" rx="4.2" ry="4.75"/>
<ellipse cx="1048.7" cy="52.1" rx="4.2" ry="4.75"/>
<ellipse cx="1078.4" cy="42.7" rx="4.2" ry="4.75"/>
<ellipse cx="1089.7" cy="39.8" rx="4.2" ry="4.75"/>
<ellipse cx="1089.7" cy="46.3" rx="4.2" ry="4.75"/>
<ellipse cx="1089.7" cy="53.3" rx="4.2" ry="4.75"/>
<ellipse cx="1114.8" cy="53.1" rx="4.2" ry="4.75"/>
<ellipse cx="1127.8" cy="44.8" rx="4.2" ry="4.75"/>
<ellipse cx="1127.5" cy="49.8" rx="4.2" ry="4.75"/>
<ellipse cx="1159.5" cy="40.8" rx="4.2" ry="4.75"/>
<ellipse cx="1242.0" cy="46.0" rx="4.2" ry="4.75"/>
<ellipse cx="1242.0" cy="51.2" rx="4.2" ry="4.75"/>
<ellipse cx="1266.3" cy="44.7" rx="4.2" ry="4.75"/>
<ellipse cx="1299.0" cy="40.4" rx="4.2" ry="4.75"/>
<ellipse cx="1301.0" cy="43.8" rx="4.2" ry="4.75"/>
<ellipse cx="1318.4" cy="40.4" rx="4.2" ry="4.75"/>
<ellipse cx="1325.7" cy="40.4" rx="4.2" ry="4.75"/>
<ellipse cx="1356.8" cy="39.8" rx="4.2" ry="4.75"/>
<ellipse cx="1361.8" cy="47.8" rx="4.2" ry="4.75"/>
<ellipse cx="1371.5" cy="42.8" rx="4.2" ry="4.75"/>
<ellipse cx="1394.2" cy="42.8" rx="4.2" ry="4.75"/>
<ellipse cx="1405.5" cy="45.4" rx="4.2" ry="4.75"/>
<ellipse cx="1418.2" cy="48.4" rx="4.2" ry="4.75"/>
<ellipse cx="1426.5" cy="43.8" rx="4.2" ry="4.75"/>
<ellipse cx="1429.2" cy="50.4" rx="4.2" ry="4.75"/>
<ellipse cx="1441.2" cy="45.4" rx="4.2" ry="4.75"/>
<ellipse cx="1452.6" cy="42.4" rx="4.2" ry="4.75"/>
<ellipse cx="1459.9" cy="45.1" rx="4.2" ry="4.75"/>
<ellipse cx="1472.6" cy="50.4" rx="4.2" ry="4.75"/>
<ellipse cx="1500.0" cy="41.8" rx="4.2" ry="4.75"/>
<ellipse cx="1511.3" cy="46.1" rx="4.2" ry="4.75"/>
<ellipse cx="1520.0" cy="45.4" rx="4.2" ry="4.75"/>
<ellipse cx="1519.6" cy="50.0" rx="4.2" ry="4.75"/>
<ellipse cx="1525.0" cy="52.8" rx="4.2" ry="4.75"/>
</g>
<rect x="807.4" y="4.1" width="3.9" height="657" fill="#ea2b45"/>
<g font-size="17.3" fill="#1c1a1b" stroke="#1c1a1b" stroke-width="0.25" text-anchor="middle">
<text transform="translate(89.8 676.0) scale(0.79 1)">-1</text>
<text transform="translate(147.0 676.0) scale(0.79 1)">-0.92</text>
<text transform="translate(204.5 676.0) scale(0.79 1)">-0.84</text>
<text transform="translate(262.1 676.0) scale(0.79 1)">-0.76</text>
<text transform="translate(319.6 676.0) scale(0.79 1)">-0.68</text>
<text transform="translate(375.0 676.0) scale(0.79 1)">-0.6</text>
<text transform="translate(434.6 676.0) scale(0.79 1)">-0.52</text>
<text transform="translate(492.1 676.0) scale(0.79 1)">-0.44</text>
<text transform="translate(549.7 676.0) scale(0.79 1)">-0.36</text>
<text transform="translate(607.2 676.0) scale(0.79 1)">-0.28</text>
<text transform="translate(662.6 676.0) scale(0.79 1)">-0.2</text>
<text transform="translate(722.2 676.0) scale(0.79 1)">-0.12</text>
<text transform="translate(779.7 676.0) scale(0.79 1)">-0.04</text>
<text transform="translate(837.4 676.0) scale(0.79 1)">0.04</text>
<text transform="translate(894.9 676.0) scale(0.79 1)">0.12</text>
<text transform="translate(952.4 676.0) scale(0.79 1)">0.2</text>
<text transform="translate(1009.9 676.0) scale(0.79 1)">0.28</text>
<text transform="translate(1067.4 676.0) scale(0.79 1)">0.36</text>
<text transform="translate(1125.0 676.0) scale(0.79 1)">0.44</text>
<text transform="translate(1182.5 676.0) scale(0.79 1)">0.52</text>
<text transform="translate(1240.0 676.0) scale(0.79 1)">0.6</text>
<text transform="translate(1297.5 676.0) scale(0.79 1)">0.68</text>
<text transform="translate(1355.0 676.0) scale(0.79 1)">0.76</text>
<text transform="translate(1412.6 676.0) scale(0.79 1)">0.84</text>
<text transform="translate(1470.1 676.0) scale(0.79 1)">0.92</text>
<text transform="translate(1530.8 676.0) scale(0.79 1)">1</text>
</g>
<g font-size="17.3" fill="#1c1a1b" stroke="#1c1a1b" stroke-width="0.25" text-anchor="end">
<text transform="translate(77.5 656.4) scale(0.79 1)">0</text>
<text transform="translate(76.5 542.2) scale(0.79 1)">20</text>
<text transform="translate(76.5 428.2) scale(0.79 1)">40</text>
<text transform="translate(76.5 314.2) scale(0.79 1)">60</text>
<text transform="translate(76.5 200.2) scale(0.79 1)">80</text>
</g>
<text font-size="32" fill="#1c1a1b" stroke="#1c1a1b" stroke-width="0.3" transform="translate(27.40 445.00) rotate(-90)" y="0"><tspan x="1.13" textLength="113.87" lengthAdjust="spacingAndGlyphs">Number</tspan> <tspan x="121.62" textLength="24.46" lengthAdjust="spacingAndGlyphs">of</tspan> <tspan x="154.60" textLength="103.76" lengthAdjust="spacingAndGlyphs">tumors</tspan></text>
<text font-size="30" fill="#1c1a1b" stroke="#1c1a1b" stroke-width="0.3" y="728.30"><tspan x="372.67" textLength="59.52" lengthAdjust="spacingAndGlyphs">LOG</tspan> <tspan x="439.79" textLength="28.28" lengthAdjust="spacingAndGlyphs">of</tspan> <tspan x="474.65" textLength="46.28" lengthAdjust="spacingAndGlyphs">the</tspan> <tspan x="528.49" textLength="63.98" lengthAdjust="spacingAndGlyphs">ratio</tspan> <tspan x="600.47" textLength="27.80" lengthAdjust="spacingAndGlyphs">of</tspan> <tspan x="635.54" textLength="46.16" lengthAdjust="spacingAndGlyphs">the</tspan> <tspan x="688.52" textLength="99.95" lengthAdjust="spacingAndGlyphs">density</tspan> <tspan x="798.43" textLength="27.80" lengthAdjust="spacingAndGlyphs">of</tspan> <tspan x="833.16" textLength="124.84" lengthAdjust="spacingAndGlyphs">missense</tspan> <tspan x="967.47" textLength="27.03" lengthAdjust="spacingAndGlyphs">to</tspan> <tspan x="1001.30" textLength="46.25" lengthAdjust="spacingAndGlyphs">the</tspan> <tspan x="1054.74" textLength="101.56" lengthAdjust="spacingAndGlyphs">density</tspan> <tspan x="1166.39" textLength="28.37" lengthAdjust="spacingAndGlyphs">of</tspan> <tspan x="1202.75" textLength="73.25" lengthAdjust="spacingAndGlyphs">silent</tspan> <tspan x="1284.82" textLength="142.45" lengthAdjust="spacingAndGlyphs">mutations</tspan></text>
<text font-size="30.5" fill="#2e3192" stroke="#2e3192" stroke-width="0.3" y="498.90"><tspan x="190.50" textLength="125.10" lengthAdjust="spacingAndGlyphs">Negative</tspan> <tspan x="323.32" textLength="125.90" lengthAdjust="spacingAndGlyphs">selection</tspan></text>
<text font-size="30.5" fill="#e8311f" stroke="#e8311f" stroke-width="0.3" y="498.90"><tspan x="1094.11" textLength="106.50" lengthAdjust="spacingAndGlyphs">Positive</tspan> <tspan x="1208.61" textLength="125.73" lengthAdjust="spacingAndGlyphs">selection</tspan></text>
</svg></body></html>
